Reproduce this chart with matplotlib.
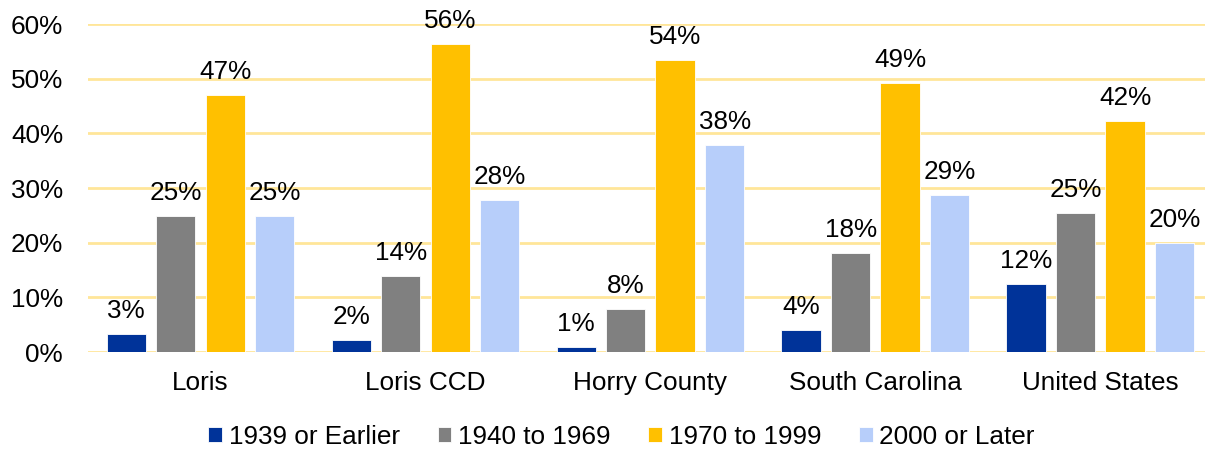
import matplotlib
matplotlib.use("Agg")
import matplotlib.pyplot as plt
import numpy as np
from matplotlib.ticker import FuncFormatter

plt.rcParams['font.family'] = ['Liberation Sans', 'DejaVu Sans']

categories = ["Loris", "Loris CCD", "Horry County", "South Carolina", "United States"]
series_names = ["1939 or Earlier", "1940 to 1969", "1970 to 1999", "2000 or Later"]
s1939 = [3.3, 2.2, 0.9, 4.0, 12.4]
s1940 = [24.9, 13.9, 7.9, 18.1, 25.4]
s1970 = [47.1, 56.3, 53.5, 49.2, 42.3]
s2000 = [24.9, 27.8, 37.9, 28.7, 19.9]
colors = ["#003399", "#808080", "#FFC000", "#B7CEFA"]

series = [s1939, s1940, s1970, s2000]
FS = 18.8

fig = plt.figure(figsize=(12.05, 4.5), dpi=100)
ax = fig.add_axes([88/1205, (450-352)/450, (1205-88)/1205, (352-24)/450])

x = np.arange(len(categories))
width = 0.175
step = 0.22
for i, (vals, name, c) in enumerate(zip(series, series_names, colors)):
    pos = x + (i - 1.5) * step
    ax.bar(pos, vals, width, color=c, label=name, edgecolor="white",
           linewidth=0.6, zorder=3)
    for xp, v in zip(pos, vals):
        ax.text(xp, v + 2.0, f"{round(v):.0f}%", ha="center", va="bottom",
                fontsize=FS, color="#000000")

ax.set_ylim(0, 60)
ax.set_xlim(-0.5, 4.465)
ax.set_yticks(np.arange(0, 61, 10))
ax.yaxis.set_major_formatter(FuncFormatter(lambda v, p: f"{v:.0f}%"))
ax.set_xticks(x)
ax.set_xticklabels(categories)
ax.tick_params(axis="both", length=0, labelsize=FS, colors="#000000")
ax.tick_params(axis="x", pad=14)
ax.tick_params(axis="y", pad=18)
ax.grid(axis="y", color="#FFE699", linewidth=2, zorder=0)
ax.set_axisbelow(True)
for s in ax.spines.values():
    s.set_visible(False)

fig.legend(loc="center", bbox_to_anchor=(621.5/1205, (450-437)/450), ncol=4,
           frameon=False, fontsize=FS, handlelength=0.53, handleheight=0.53,
           handletextpad=0.25, columnspacing=1.45)

fig.savefig("out.png", dpi=100)
